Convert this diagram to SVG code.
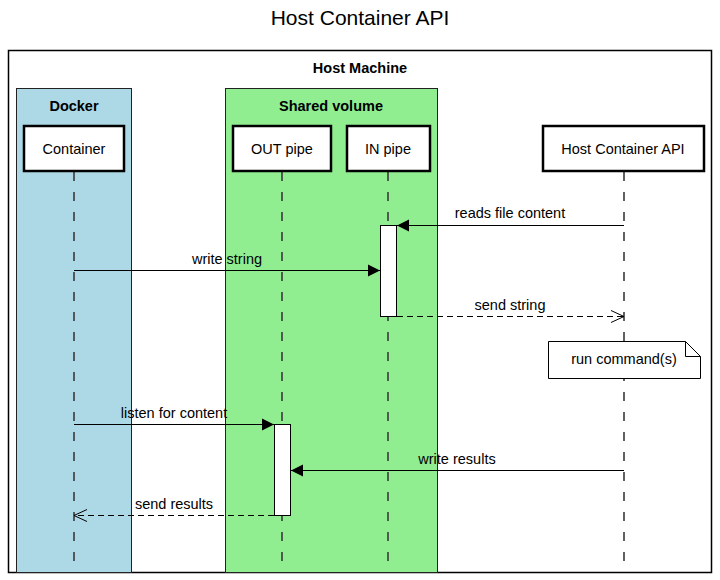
<svg xmlns="http://www.w3.org/2000/svg" width="720" height="580" viewBox="0 0 720 580">
<style>
text{font-family:"Liberation Sans",Arial,sans-serif;fill:#000}
.title{font-size:21px}
.lbl{font-size:14.5px}
.bold{font-size:14.5px;font-weight:bold}
.node{fill:#fff;stroke:#000;stroke-width:2.5}
.life{stroke:#3a3a3a;stroke-width:1.6;stroke-dasharray:9 11;fill:none}
.act{fill:#fff;stroke:#000;stroke-width:1}
.msg{stroke:#000;stroke-width:1;fill:none}
.ret{stroke:#000;stroke-width:1;fill:none;stroke-dasharray:6 4}
</style>
<defs>
<marker id="fill" markerUnits="userSpaceOnUse" markerWidth="14" markerHeight="14" refX="13" refY="7" orient="auto"><path d="M1,1 L13,7 L1,13 z" fill="#000"/></marker>
<marker id="open" markerUnits="userSpaceOnUse" markerWidth="16" markerHeight="16" refX="14" refY="8" orient="auto"><path d="M1,2 L14,8 L1,14" fill="none" stroke="#000" stroke-width="1"/></marker>
</defs>
<rect width="720" height="580" fill="#fff"/>
<text class="title" x="360" y="25" text-anchor="middle">Host Container API</text>
<g id="host-machine">
<rect x="8.5" y="50.5" width="703" height="522" fill="#fff" stroke="#000" stroke-width="1.5"/>
<text class="bold" x="360" y="73" text-anchor="middle">Host Machine</text>
</g>
<g id="docker">
<rect x="16.5" y="88.5" width="115" height="484" fill="#ADD8E6" stroke="#222" stroke-width="1"/>
<text class="bold" x="74" y="111" text-anchor="middle">Docker</text>
</g>
<g id="shared-volume">
<rect x="225.5" y="88.5" width="212" height="484" fill="#90EE90" stroke="#222" stroke-width="1"/>
<text class="bold" x="331" y="111" text-anchor="middle">Shared volume</text>
</g>
<g id="lifelines">
<line class="life" x1="74" y1="172" x2="74" y2="572"/>
<line class="life" x1="282" y1="172" x2="282" y2="572"/>
<line class="life" x1="388" y1="172" x2="388" y2="572"/>
<line class="life" x1="624" y1="172" x2="624" y2="572"/>
</g>
<g id="container">
<rect class="node" x="24" y="126" width="100" height="45"/>
<text class="lbl" x="74" y="154" text-anchor="middle">Container</text>
</g>
<g id="out-pipe">
<rect class="node" x="233" y="126" width="98" height="45"/>
<text class="lbl" x="282" y="154" text-anchor="middle">OUT pipe</text>
</g>
<g id="in-pipe">
<rect class="node" x="347" y="126" width="83" height="45"/>
<text class="lbl" x="388" y="154" text-anchor="middle">IN pipe</text>
</g>
<g id="host-container-api">
<rect class="node" x="543" y="126" width="161" height="45"/>
<text class="lbl" x="623" y="154" text-anchor="middle">Host Container API</text>
</g>
<g id="activations">
<rect class="act" x="380.5" y="225.5" width="16" height="91"/>
<rect class="act" x="274.5" y="424.5" width="16" height="91"/>
</g>
<g id="note">
<path d="M548.5,341.5 H685.5 L700.5,356.5 V378.5 H548.5 Z" fill="#fff" stroke="#000" stroke-width="1"/>
<path d="M685.5,341.5 V356.5 H700.5" fill="none" stroke="#000" stroke-width="1"/>
<text class="lbl" x="624" y="364" text-anchor="middle">run command(s)</text>
</g>
<g id="connectors">
<line class="msg" x1="624" y1="225.5" x2="397" y2="225.5" marker-end="url(#fill)"/>
<text class="lbl" x="510" y="218" text-anchor="middle">reads file content</text>
<line class="msg" x1="74" y1="270.5" x2="380" y2="270.5" marker-end="url(#fill)"/>
<text class="lbl" x="227" y="264" text-anchor="middle">write string</text>
<line class="ret" x1="397" y1="316.5" x2="624" y2="316.5" marker-end="url(#open)"/>
<text class="lbl" x="510" y="310" text-anchor="middle">send string</text>
<line class="msg" x1="74" y1="424.5" x2="274" y2="424.5" marker-end="url(#fill)"/>
<text class="lbl" x="174" y="418" text-anchor="middle">listen for content</text>
<line class="msg" x1="624" y1="470.5" x2="291" y2="470.5" marker-end="url(#fill)"/>
<text class="lbl" x="457" y="464" text-anchor="middle">write results</text>
<line class="ret" x1="274" y1="515.5" x2="74" y2="515.5" marker-end="url(#open)"/>
<text class="lbl" x="174" y="509" text-anchor="middle">send results</text>
</g>
</svg>
